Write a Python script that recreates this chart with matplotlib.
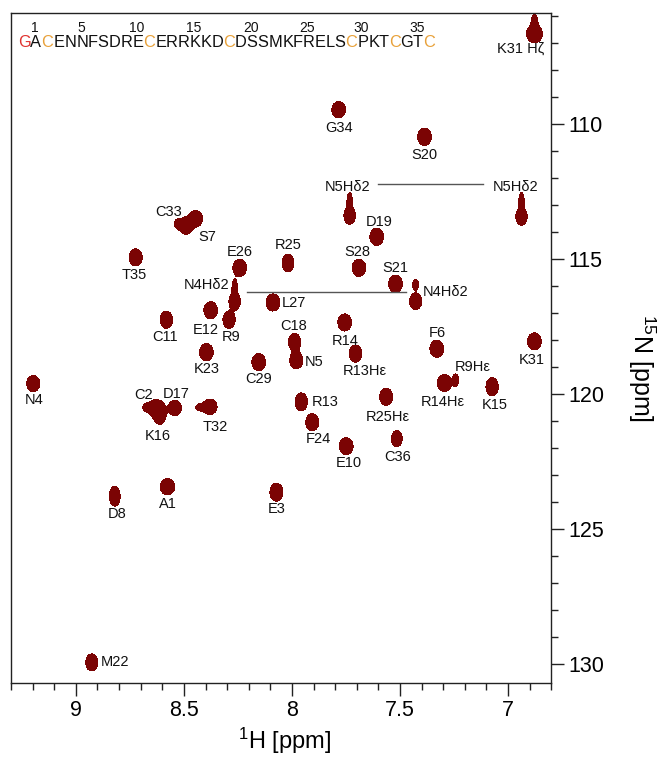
import numpy as np
import matplotlib
matplotlib.use('Agg')
import matplotlib.pyplot as plt
from matplotlib import font_manager, ft2font
from matplotlib.ticker import MultipleLocator, FuncFormatter

plt.rcParams['font.family'] = ['Liberation Sans', 'DejaVu Sans']
plt.rcParams['mathtext.fontset'] = 'custom'
plt.rcParams['mathtext.rm'] = 'Liberation Sans'
plt.rcParams['mathtext.default'] = 'regular'

# assigned cross peaks (1H ppm, 15N ppm)
peak_labels = ['K31 Hζ', 'G34', 'S20', 'N5Hδ2', 'N5Hδ2', 'D19', 'C33', 'S7', 'T35',
               'E26', 'R25', 'S28', 'S21', 'N4Hδ2', 'N4Hδ2', 'L27', 'E12', 'R9',
               'C11', 'C18', 'N5', 'K23', 'C29', 'R14', 'R13Hε', 'F6', 'K31',
               'R9Hε', 'R14Hε', 'K15', 'R25Hε', 'C36', 'E10', 'N4', 'C2', 'D17',
               'K16', 'T32', 'R13', 'F24', 'A1', 'D8', 'E3', 'M22']
peak_h = [6.878, 7.784, 7.387, 7.733, 6.938, 7.608, 8.491, 8.445, 8.723,
          8.242, 8.018, 7.690, 7.521, 7.428, 8.265, 8.088, 8.376, 8.291,
          8.581, 7.988, 7.980, 8.396, 8.154, 7.756, 7.706, 7.330, 6.878,
          7.243, 7.294, 7.074, 7.564, 7.515, 7.749, 9.197, 8.635, 8.542,
          8.612, 8.380, 7.957, 7.906, 8.576, 8.820, 8.072, 8.926]
peak_n = [106.67, 109.48, 110.48, 113.40, 113.43, 114.18, 113.77, 113.51, 114.94,
          115.33, 115.15, 115.33, 115.92, 116.57, 116.57, 116.61, 116.90, 117.25,
          117.25, 118.07, 118.75, 118.45, 118.82, 117.35, 118.50, 118.32, 118.05,
          119.49, 119.59, 119.73, 120.10, 121.65, 121.93, 119.61, 120.51, 120.51,
          120.72, 120.47, 120.29, 121.04, 123.43, 123.78, 123.63, 129.93]
# line widths (gaussian sigma, ppm)
peak_wh = [0.022, 0.019, 0.019, 0.016, 0.016, 0.019, 0.019, 0.019, 0.018,
           0.019, 0.016, 0.019, 0.019, 0.017, 0.016, 0.019, 0.019, 0.017,
           0.017, 0.017, 0.018, 0.019, 0.019, 0.019, 0.018, 0.019, 0.019,
           0.008, 0.020, 0.017, 0.018, 0.015, 0.019, 0.018, 0.020, 0.018,
           0.018, 0.020, 0.017, 0.018, 0.020, 0.015, 0.018, 0.017]
peak_wn = [0.20, 0.18, 0.19, 0.19, 0.19, 0.19, 0.19, 0.18, 0.19,
           0.19, 0.20, 0.19, 0.19, 0.18, 0.19, 0.19, 0.19, 0.19,
           0.19, 0.19, 0.19, 0.19, 0.19, 0.19, 0.19, 0.19, 0.19,
           0.14, 0.19, 0.20, 0.19, 0.18, 0.19, 0.18, 0.17, 0.17,
           0.24, 0.17, 0.20, 0.19, 0.18, 0.22, 0.20, 0.19]
# label offsets from the peak, pixels (right, down)
label_dx = [-14, 0, 0, -2, -6, 2, -17, 11, -1, 0, 0, -2, 0, 30, -28, 21, -5, 2,
            -1, -1, 18, 0, 0, 0, 9, 1, -3, 17, -2, 3, 2, 1, 3, 1, -11, 1,
            -2, 5, 24, 6, 0, 2, 0, 23]
label_dy = [15, 18, 18, -29, -30, -15, -14, 18, 18, -16, -18, -16, -16, -9, -16, 1, 20, 17,
            17, -16, 2, 17, 17, 19, 17, -16, 19, -13, 19, 18, 20, 18, 17, 16, -13, -14,
            22, 20, 0, 17, 17, 18, 17, 0]

# unlabeled shoulders that give some peaks their shape
shape_h = [6.878, 7.733, 6.938, 7.428, 8.265, 8.528, 8.427, 8.673]
shape_n = [106.27, 112.88, 112.87, 115.95, 116.06, 113.70, 120.49, 120.49]
shape_wh = [0.009, 0.008, 0.008, 0.009, 0.008, 0.012, 0.015, 0.012]
shape_wn = [0.20, 0.22, 0.22, 0.13, 0.20, 0.12, 0.10, 0.10]
shape_amp = [0.9, 0.8, 0.8, 0.8, 0.8, 0.6, 0.5, 0.6]

# side-chain NH2 pairs joined by a line
link_h = [[7.602, 7.117], [8.209, 7.474]]
link_n = [112.24, 116.24]

sequence = 'GACENNFSDRECERRKKDCDSSMKFRELSCPKTCGTC'
seq_numbers = [1, 5, 10, 15, 20, 25, 30, 35]

peak_color = '#7b0404'
px = 72 / 100

fig = plt.figure(figsize=(6.59, 7.57), dpi=100)
ax = fig.add_axes([0.0167, 0.0974, 0.8199, 0.8854])

hh = np.linspace(6.8, 9.3, 1000)
nn = np.linspace(105.9, 130.7, 1600)
Z = np.zeros((nn.size, hh.size))
comps = list(zip(peak_h, peak_n, [1.0] * len(peak_h), peak_wh, peak_wn)) + \
    list(zip(shape_h, shape_n, shape_amp, shape_wh, shape_wn))
for h0, n0, a, sh, sn in comps:
    Z += a * np.outer(np.exp(-0.5 * ((nn - n0) / sn) ** 2),
                      np.exp(-0.5 * ((hh - h0) / sh) ** 2))
ax.contourf(hh, nn, Z, levels=[0.25, Z.max() + 1], colors=[peak_color])

for hs, n in zip(link_h, link_n):
    ax.plot(hs, [n, n], color='#555555', lw=1.0)

for lab, h, n, dx, dy in zip(peak_labels, peak_h, peak_n, label_dx, label_dy):
    ax.annotate(lab, xy=(h, n), xytext=(dx * px, -dy * px), textcoords='offset points',
                ha='center', va='center', fontsize=10.5, color='#111111')

# sequence with per-letter colours
seq_size = 11.8
fpath = font_manager.findfont(font_manager.FontProperties(family='Liberation Sans'))
ft = ft2font.FT2Font(fpath)
ft.set_size(seq_size, 72)
try:
    flag = ft2font.LoadFlags.NO_HINTING
except AttributeError:
    flag = ft2font.LOAD_NO_HINTING
pen = 0.0
centers = []
for i, ch in enumerate(sequence):
    g = ft.load_char(ord(ch), flags=flag)
    adv = g.linearHoriAdvance / 65536
    bx = g.horiBearingX / 64
    if i == 0:
        col = '#e0322f'
    elif ch == 'C':
        col = '#e8a13a'
    else:
        col = '#111111'
    ax.annotate(ch, xy=(0.011, 0.949), xycoords='axes fraction', xytext=(pen + bx, 0),
                textcoords='offset points', ha='left', va='baseline',
                fontsize=seq_size, color=col)
    centers.append(pen + adv / 2)
    pen += adv
for k in seq_numbers:
    ax.annotate(str(k), xy=(0.011, 0.949), xycoords='axes fraction',
                xytext=(centers[k], 11), textcoords='offset points',
                ha='center', va='baseline', fontsize=10, color='#111111')

ax.set_xlim(9.3, 6.8)
ax.set_ylim(130.7, 105.9)
ax.xaxis.set_major_locator(MultipleLocator(0.5))
ax.xaxis.set_minor_locator(MultipleLocator(0.1))
ax.yaxis.set_major_locator(MultipleLocator(5))
ax.yaxis.set_minor_locator(MultipleLocator(1))
ax.xaxis.set_major_formatter(FuncFormatter(lambda v, p: '%g' % v))
ax.yaxis.tick_right()
ax.tick_params(which='major', length=9, width=1.0, labelsize=15.5, pad=3,
               color='#222222')
ax.tick_params(which='minor', length=5, width=1.0, color='#222222')
for s in ax.spines.values():
    s.set_linewidth(1.0)
    s.set_color('#222222')

ax.set_xlabel('$^{1}$H [ppm]', fontsize=17)
ax.xaxis.set_label_coords(0.507, -0.064)
ax.yaxis.set_label_position('right')
ax.set_ylabel('$^{15}$N [ppm]', fontsize=18, rotation=270)
ax.yaxis.label.set(va='center', ha='center')
ax.yaxis.set_label_coords(1.168, 0.47)

fig.savefig('out.png', dpi=100)
